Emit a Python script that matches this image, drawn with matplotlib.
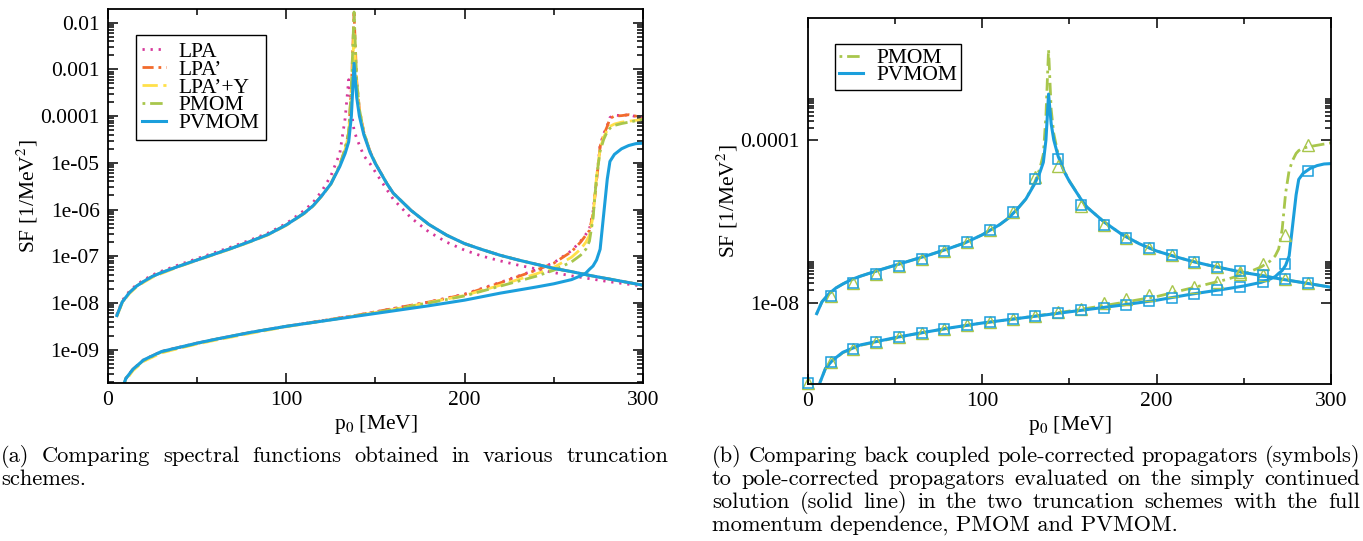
import matplotlib
matplotlib.use("Agg")
import matplotlib.pyplot as plt
import numpy as np
from matplotlib.lines import Line2D

plt.rcParams['font.family'] = ['Liberation Serif', 'DejaVu Serif']
plt.rcParams['mathtext.fontset'] = 'stix'
plt.rcParams['lines.scale_dashes'] = False

# ---- data, values are log10(SF) ----
# branch with the pion peak
x_up = [5, 8, 12, 16, 20, 25, 30, 40, 50, 60, 70, 80, 90, 100, 110, 115, 120, 125, 130, 133,
        135, 136.5, 138, 139.5, 141, 143.5, 147, 150, 156.5, 160, 170, 180, 190, 200, 210,
        220, 230, 240, 250, 260, 270, 280, 290, 300]
lpa_up = [-8.25, -7.95, -7.75, -7.61, -7.51, -7.40, -7.32, -7.18, -7.05, -6.92,
          -6.79, -6.65, -6.50, -6.30, -6.02, -5.85, -5.60, -5.28, -4.80, -4.05,
          -3.22, -3.90, -4.30, -4.48, -4.62, -4.85, -5.02, -5.20, -5.58, -5.78,
          -6.18, -6.48, -6.70, -6.87, -7.00, -7.10, -7.19, -7.27, -7.35, -7.42,
          -7.48, -7.54, -7.59, -7.64]
lpap_up = [-8.27, -7.98, -7.78, -7.64, -7.54, -7.43, -7.35, -7.21, -7.08, -6.95,
           -6.82, -6.68, -6.53, -6.33, -6.08, -5.92, -5.70, -5.45, -5.05, -4.70,
           -4.35, -3.40, -1.80, -3.25, -3.85, -4.35, -4.76, -5.01, -5.45, -5.65,
           -6.02, -6.32, -6.55, -6.73, -6.86, -6.98, -7.08, -7.17, -7.26, -7.33,
           -7.41, -7.48, -7.55, -7.62]
lpapy_up = [-8.29, -8.00, -7.80, -7.66, -7.56, -7.45, -7.37, -7.22, -7.09, -6.96,
            -6.83, -6.69, -6.54, -6.34, -6.09, -5.93, -5.71, -5.46, -5.06, -4.72,
            -4.40, -3.60, -2.20, -3.40, -3.90, -4.37, -4.77, -5.01, -5.45, -5.65,
            -6.02, -6.32, -6.55, -6.73, -6.86, -6.98, -7.08, -7.17, -7.26, -7.33,
            -7.41, -7.48, -7.55, -7.62]
pmom_up = [-8.27, -7.98, -7.78, -7.64, -7.54, -7.43, -7.35, -7.21, -7.08, -6.95,
           -6.82, -6.68, -6.53, -6.33, -6.08, -5.92, -5.70, -5.45, -5.05, -4.70,
           -4.35, -3.40, -1.77, -3.25, -3.85, -4.35, -4.76, -5.01, -5.45, -5.65,
           -6.02, -6.32, -6.55, -6.73, -6.86, -6.98, -7.08, -7.17, -7.26, -7.33,
           -7.41, -7.48, -7.55, -7.62]
pvmom_up = [-8.27, -7.98, -7.78, -7.64, -7.54, -7.43, -7.35, -7.21, -7.08, -6.95,
            -6.82, -6.68, -6.53, -6.33, -6.08, -5.92, -5.70, -5.45, -5.08, -4.80,
            -4.55, -4.00, -2.87, -3.60, -4.00, -4.40, -4.78, -5.02, -5.45, -5.65,
            -6.02, -6.32, -6.55, -6.73, -6.86, -6.98, -7.08, -7.17, -7.26, -7.33,
            -7.41, -7.48, -7.55, -7.62]

# branch with the two-pion threshold
x_lo = [7, 10, 14, 20, 30, 40, 50, 60, 80, 100, 120, 140, 160, 180, 200, 220, 240, 250, 260,
        265, 268, 270, 272, 274, 276, 278, 280, 281.5, 284, 288, 292, 296, 300]
lpa_lo = [-9.95, -9.62, -9.42, -9.22, -9.04, -8.95, -8.86, -8.78, -8.63, -8.50,
          -8.38, -8.26, -8.12, -7.98, -7.81, -7.56, -7.29, -7.14, -6.88, -6.68,
          -6.53, -6.42, -6.05, -5.35, -4.62, -4.38, -4.20, -4.03, -3.98, -3.99,
          -3.97, -4.01, -4.05]
lpap_lo = [-9.95, -9.62, -9.42, -9.22, -9.04, -8.95, -8.86, -8.78, -8.63, -8.50,
           -8.38, -8.26, -8.12, -7.98, -7.82, -7.57, -7.30, -7.15, -6.90, -6.70,
           -6.55, -6.45, -6.10, -5.40, -4.65, -4.40, -4.22, -4.05, -4.00, -3.99,
           -3.97, -4.00, -4.05]
lpapy_lo = [-9.98, -9.66, -9.45, -9.25, -9.07, -8.97, -8.88, -8.80, -8.65, -8.51,
            -8.39, -8.27, -8.14, -7.99, -7.84, -7.62, -7.38, -7.24, -7.02, -6.85,
            -6.70, -6.55, -6.15, -5.30, -4.70, -4.45, -4.30, -4.22, -4.17, -4.13,
            -4.11, -4.09, -4.07]
pmom_lo = [-9.95, -9.62, -9.43, -9.23, -9.05, -8.96, -8.87, -8.78, -8.63, -8.50,
           -8.39, -8.27, -8.14, -8.00, -7.85, -7.64, -7.43, -7.30, -7.12, -6.98,
           -6.85, -6.68, -6.20, -5.30, -4.75, -4.50, -4.33, -4.26, -4.20, -4.16,
           -4.13, -4.10, -4.07]
pvmom_lo = [-9.95, -9.62, -9.42, -9.22, -9.04, -8.95, -8.86, -8.78, -8.63, -8.50,
            -8.39, -8.28, -8.17, -8.06, -7.94, -7.79, -7.66, -7.59, -7.50, -7.42,
            -7.36, -7.28, -7.21, -7.08, -6.85, -6.10, -5.35, -4.97, -4.82, -4.70,
            -4.63, -4.59, -4.58]

# back coupled pole-corrected propagators (symbols in panel b)
p_sym = [0, 13.0, 26.1, 39.1, 52.2, 65.2, 78.3, 91.3, 104.3, 117.4, 130.4, 143.5, 156.5,
         169.6, 182.6, 195.7, 208.7, 221.7, 234.8, 247.8, 260.9, 273.9, 287.0]
pmom_sym_up = [-7.84, -7.52, -7.30, -7.11, -6.93, -6.73, -6.51, -6.22, -5.78, -4.92,
               -4.63, -5.62, -6.09, -6.42, -6.65, -6.84, -7.00, -7.12, -7.24, -7.33,
               -7.43, -7.52]
pvmom_sym_up = [-7.84, -7.52, -7.30, -7.11, -6.93, -6.73, -6.51, -6.22, -5.78, -4.97,
                -4.47, -5.60, -6.09, -6.42, -6.65, -6.84, -7.00, -7.12, -7.22, -7.33,
                -7.43, -7.52]
pmom_sym_lo = [-9.98, -9.45, -9.15, -8.97, -8.85, -8.74, -8.64, -8.56, -8.48, -8.41,
               -8.32, -8.24, -8.15, -8.00, -7.90, -7.80, -7.72, -7.62, -7.49, -7.30,
               -7.06, -6.34, -4.12]
pvmom_sym_lo = [-9.98, -9.45, -9.15, -8.97, -8.85, -8.74, -8.64, -8.56, -8.48, -8.41,
                -8.33, -8.26, -8.19, -8.12, -8.05, -7.97, -7.89, -7.78, -7.70, -7.61,
                -7.49, -7.06, -4.76]

labels = ["LPA", "LPA\u2019", "LPA\u2019+Y", "PMOM", "PVMOM"]
colors = ["#d6379a", "#f26b2d", "#ffe04a", "#a8c64c", "#1b9fdc"]
styles = [(0, (1.6, 4.2)), (0, (8, 3.5, 2, 3.5)), (0, (11, 4)),
          (12.5, (9, 3.5, 2, 3.5)), "-"]
widths = [2.0, 2.0, 2.0, 2.0, 2.2]

xticks = [0, 100, 200, 300]
yticks_a = [1e-9, 1e-8, 1e-7, 1e-6, 1e-5, 1e-4, 1e-3, 1e-2]
ylabels_a = ["1e-09", "1e-08", "1e-07", "1e-06", "1e-05", "0.0001", "0.001", "0.01"]
yticks_b = [1e-8, 1e-4]
ylabels_b = ["1e-08", "0.0001"]

fs = 15.5
fig = plt.figure(figsize=(13.63, 5.41), dpi=100)
ax1 = fig.add_axes([0.0792, 0.292, 0.3925, 0.6913])
ax2 = fig.add_axes([0.5928, 0.2902, 0.3837, 0.6765])


def style_axes(ax, yt, yl, minor):
    ax.set_yscale('log')
    ax.set_xlim(0, 300)
    ax.set_xticks(xticks)
    ax.set_xticklabels([str(t) for t in xticks])
    ax.set_xticks([50, 150, 250], minor=True)
    ax.set_yticks(yt)
    ax.set_yticklabels(yl)
    ax.set_yticks(minor, minor=True)
    ax.yaxis.set_minor_formatter(plt.NullFormatter())
    ax.tick_params(which='both', direction='in', top=True, right=True,
                   labelsize=fs, width=1.1)
    ax.tick_params(which='major', length=7.5, pad=6)
    ax.tick_params(which='minor', length=4)
    for s in ax.spines.values():
        s.set_linewidth(1.3)
    ax.set_xlabel("p$_0$ [MeV]", fontsize=fs, labelpad=2)
    ax.set_ylabel("SF [1/MeV$^2$]", fontsize=fs, labelpad=0.5)


up_a = [lpa_up, lpap_up, lpapy_up, pmom_up, pvmom_up]
lo_a = [lpa_lo, lpap_lo, lpapy_lo, pmom_lo, pvmom_lo]
for i in range(5):
    for xs, ys in [(x_up, up_a[i]), (x_lo, lo_a[i])]:
        ax1.plot(xs, 10 ** np.array(ys), color=colors[i], ls=styles[i], lw=widths[i],
                 dash_capstyle='butt')

minor_a = [k * 10.0 ** e for e in range(-10, -1) for k in range(2, 10)]
style_axes(ax1, yticks_a, ylabels_a, minor_a)
ax1.set_ylim(1.93e-10, 0.0196)

handles = [Line2D([], [], color=colors[i], ls=styles[i], lw=widths[i],
                  dash_capstyle='butt') for i in range(5)]
leg = ax1.legend(handles, labels, loc='upper left', bbox_to_anchor=(0.052, 0.930),
                 borderaxespad=0, fontsize=fs, frameon=True, fancybox=False,
                 edgecolor='black', framealpha=1, handlelength=1.1,
                 handletextpad=0.6, labelspacing=-0.1, borderpad=0.3)
leg.get_frame().set_linewidth(1.0)

# panel b
for i, ups, los in [(3, pmom_up, pmom_lo), (4, pvmom_up, pvmom_lo)]:
    ax2.plot(x_up, 10 ** np.array(ups), color=colors[i], ls=styles[i], lw=widths[i],
             dash_capstyle='butt')
    ax2.plot(x_lo, 10 ** np.array(los), color=colors[i], ls=styles[i], lw=widths[i],
             dash_capstyle='butt')

ax2.plot(p_sym[1:], 10 ** np.array(pmom_sym_up), ls='none', marker='^', ms=8,
         mfc='none', mec=colors[3], mew=1.0)
ax2.plot(p_sym, 10 ** np.array(pmom_sym_lo), ls='none', marker='^', ms=8,
         mfc='none', mec=colors[3], mew=1.0, clip_on=False)
ax2.plot(p_sym[1:], 10 ** np.array(pvmom_sym_up), ls='none', marker='s', ms=7.5,
         mfc='none', mec=colors[4], mew=1.1)
ax2.plot(p_sym, 10 ** np.array(pvmom_sym_lo), ls='none', marker='s', ms=7.5,
         mfc='none', mec=colors[4], mew=1.1, clip_on=False)

minor_b = [k * 1e-8 for k in range(2, 11)] + [k * 1e-4 for k in range(2, 11)]
style_axes(ax2, yticks_b, ylabels_b, minor_b)
ax2.set_ylim(1e-10, 0.1)

leg2 = ax2.legend(handles[3:], labels[3:], loc='upper left', bbox_to_anchor=(0.052, 0.929),
                  borderaxespad=0, fontsize=fs, frameon=True, fancybox=False,
                  edgecolor='black', framealpha=1, handlelength=1.1,
                  handletextpad=0.6, labelspacing=-0.15, borderpad=0.2)
leg2.get_frame().set_linewidth(1.0)

# captions, justified like the LaTeX source
cap_a = ["(a) Comparing spectral functions obtained in various truncation",
         "schemes."]
cap_b = ["(b) Comparing back coupled pole-corrected propagators (symbols)",
         "to pole-corrected propagators evaluated on the simply continued",
         "solution (solid line) in the two truncation schemes with the full",
         "momentum dependence, PMOM and PVMOM."]
W, H = 1363.0, 541.0
renderer = fig.canvas.get_renderer()


def caption(lines, x0, x1, y0, dy, size=16.2):
    for i, line in enumerate(lines):
        y = 1 - (y0 + i * dy) / H
        if i == len(lines) - 1:
            fig.text(x0 / W, y, line, fontsize=size, family='cmr10', va='baseline')
            continue
        words = line.split(' ')
        txts = [fig.text(0, y, w, fontsize=size, family='cmr10', va='baseline')
                for w in words]
        wd = [t.get_window_extent(renderer).width for t in txts]
        gap = (x1 - x0 - sum(wd)) / (len(words) - 1)
        pos = x0
        for t, w in zip(txts, wd):
            t.set_x(pos / W)
            pos += w + gap


caption(cap_a, 1, 668, 462, 22.8)
caption(cap_b, 712, 1360, 462, 22.8)

fig.savefig("out.png", dpi=100)
